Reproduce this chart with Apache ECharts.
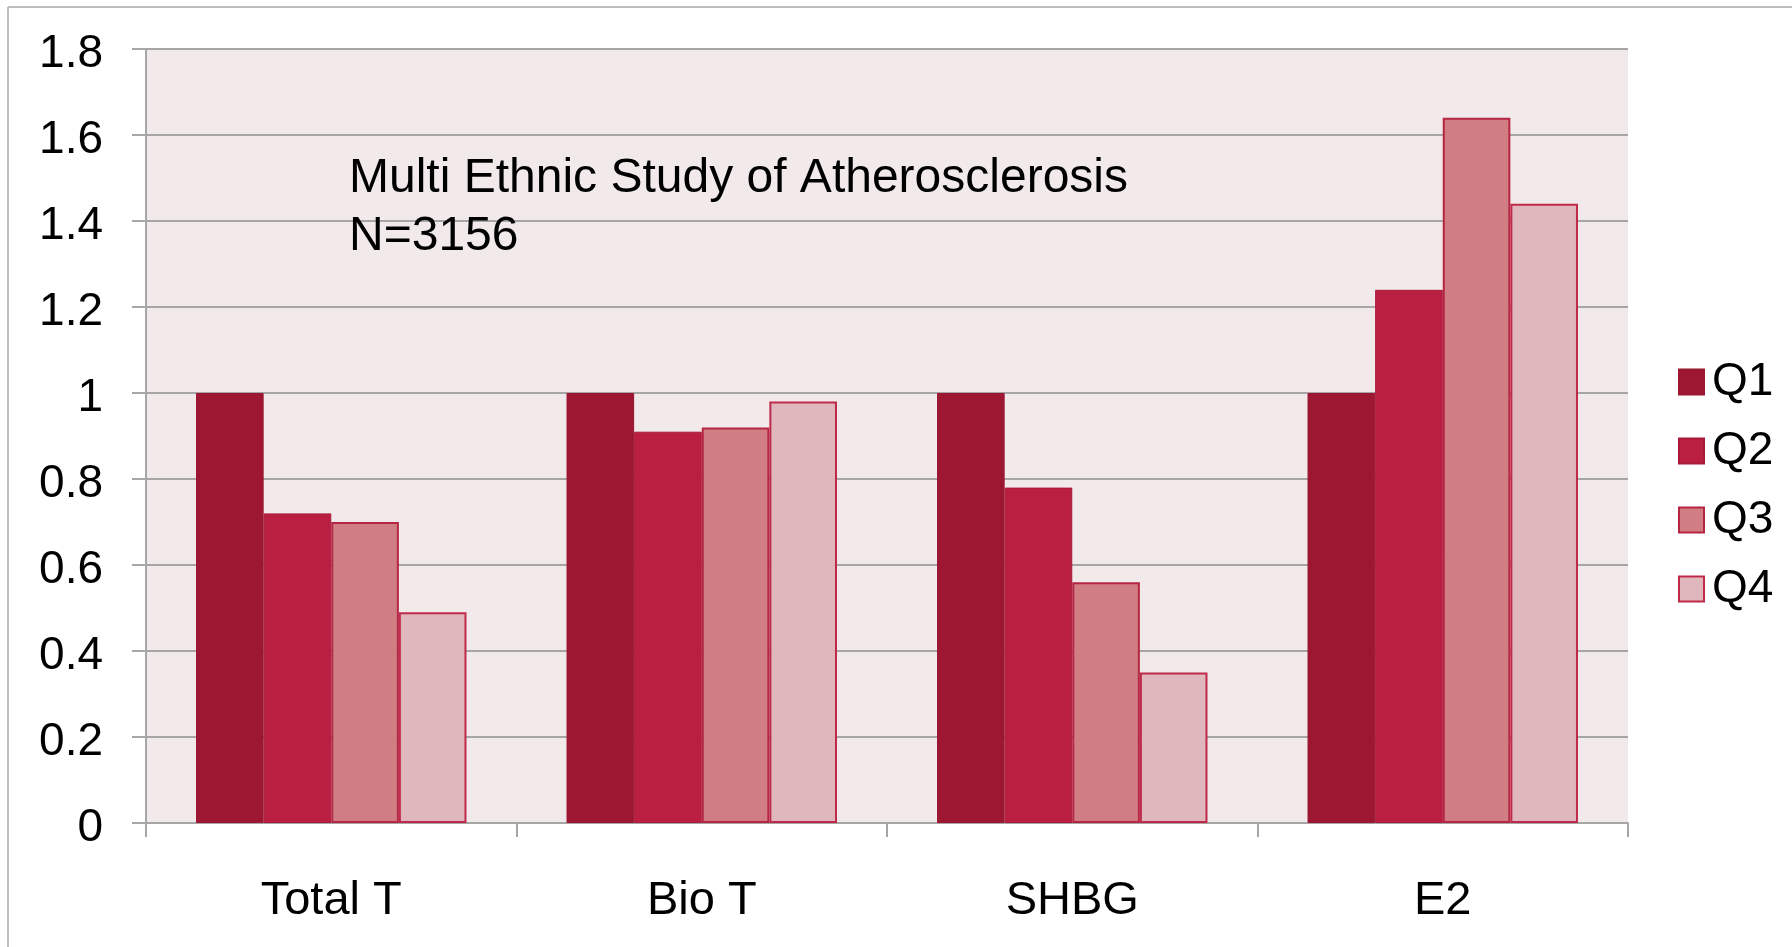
<!DOCTYPE html>
<html>
<head>
<meta charset="utf-8">
<title>Hormone quartiles</title>
<script src="https://cdn.jsdelivr.net/npm/echarts@6/dist/echarts.min.js"></script>
<style>
  html, body { margin: 0; padding: 0; background: #ffffff; }
  #chart { width: 1792px; height: 947px; }
</style>
</head>
<body>
<div id="chart"></div>
<script>
// Hormone measures on the category axis
const categories = ['Total T', 'Bio T', 'SHBG', 'E2'];

// Quartile values per measure (Q1 is the reference at 1)
const q1 = [1.00, 1.00, 1.00, 1.00];
const q2 = [0.72, 0.91, 0.78, 1.24];
const q3 = [0.70, 0.92, 0.56, 1.64];
const q4 = [0.49, 0.98, 0.35, 1.44];

const seriesNames = ['Q1', 'Q2', 'Q3', 'Q4'];
const annotation = ['Multi Ethnic Study of Atherosclerosis', 'N=3156'];

const FONT = '"Liberation Sans", Arial, Helvetica, sans-serif';
const GRID_GRAY = '#a6a6a6';

const styles = [
  { color: '#9e1732', borderColor: '#9a1631', borderWidth: 1 },
  { color: '#ba1f41', borderColor: '#a8193a', borderWidth: 1 },
  { color: '#d17d84', borderColor: '#b52544', borderWidth: 2 },
  { color: '#e0b7bc', borderColor: '#bf2a4a', borderWidth: 2 }
];

const values = [q1, q2, q3, q4];

const chart = echarts.init(document.getElementById('chart'), null, { renderer: 'canvas' });

chart.setOption({
  animation: false,
  backgroundColor: '#ffffff',
  textStyle: { fontFamily: FONT },
  grid: {
    left: 146,
    right: 164,
    top: 49,
    bottom: 124,
    show: true,
    backgroundColor: '#f2e9ea',
    borderWidth: 0
  },
  legend: {
    orient: 'vertical',
    left: 1673,
    top: 353,
    itemWidth: 25,
    itemHeight: 25,
    itemGap: 21,
    icon: 'rect',
    textStyle: { fontFamily: FONT, fontSize: 46, lineHeight: 44, color: '#000000', padding: [4, 0, 0, 3] },
    data: seriesNames
  },
  xAxis: {
    type: 'category',
    data: categories,
    boundaryGap: true,
    axisLine: { show: true, lineStyle: { color: GRID_GRAY, width: 2 } },
    axisTick: { show: true, length: 14, lineStyle: { color: GRID_GRAY, width: 2 } },
    axisLabel: { fontFamily: FONT, fontSize: 47, color: '#000000', margin: 55, lineHeight: 47 },
    splitLine: { show: false }
  },
  yAxis: {
    type: 'value',
    min: 0,
    max: 1.8,
    interval: 0.2,
    axisLine: { show: true, lineStyle: { color: GRID_GRAY, width: 2 } },
    axisTick: { show: true, length: 14, lineStyle: { color: GRID_GRAY, width: 2 } },
    axisLabel: {
      fontFamily: FONT, fontSize: 46, color: '#000000', margin: 43,
      verticalAlign: 'top', lineHeight: 10
    },
    splitLine: { show: true, lineStyle: { color: GRID_GRAY, width: 2 } }
  },
  graphic: [
    {
      type: 'line',
      shape: { x1: 8, y1: 7, x2: 8, y2: 947 },
      style: { stroke: '#bdbdbd', lineWidth: 2 },
      silent: true
    },
    {
      type: 'line',
      shape: { x1: 8, y1: 7, x2: 1792, y2: 7 },
      style: { stroke: '#bdbdbd', lineWidth: 2 },
      silent: true
    },
    {
      type: 'text',
      left: 349,
      top: 150,
      z: 10,
      style: {
        text: annotation.join('\n'),
        font: '48px ' + FONT,
        lineHeight: 58,
        fill: '#000000'
      }
    }
  ],
  series: seriesNames.map((name, i) => ({
    name: name,
    type: 'bar',
    data: values[i],
    barGap: '0%',
    barCategoryGap: '27%',
    itemStyle: styles[i]
  }))
});
</script>
</body>
</html>
